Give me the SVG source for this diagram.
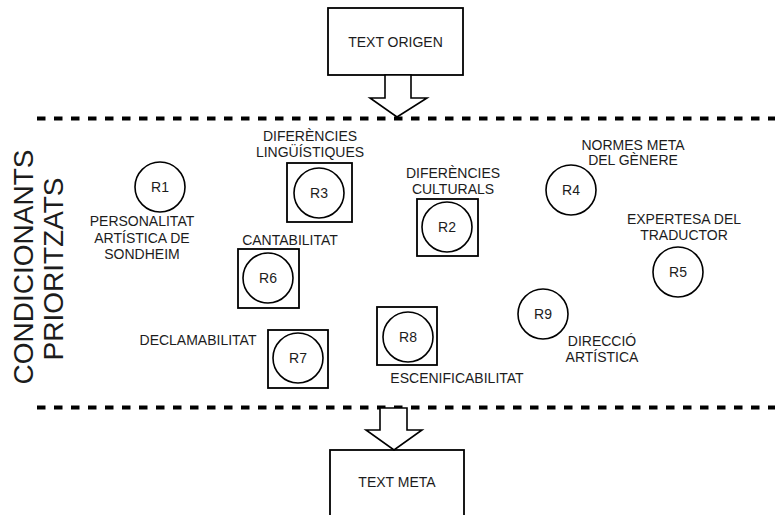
<svg xmlns="http://www.w3.org/2000/svg" width="775" height="515" viewBox="0 0 775 515">
  <style>
    text { font-family: "Liberation Sans", Arial, sans-serif; font-size: 14px; fill: #1c1c1c; text-anchor: middle; }
    .big { font-size: 28px; }
    .box { fill: #fff; stroke: #000; stroke-width: 1.8; }
    .ring { fill: #fff; stroke: #000; stroke-width: 1.6; }
    .frame { fill: none; stroke: #000; stroke-width: 1.8; }
    .dash { stroke: #000; stroke-width: 4; stroke-dasharray: 8.5 8.5; fill: none; }
    .arrow { fill: #fff; stroke: #000; stroke-width: 1.6; stroke-linejoin: miter; }
  </style>

  <!-- band boundaries -->
  <g id="band">
    <line class="dash" x1="37" y1="118.5" x2="775" y2="118.5"/>
    <line class="dash" x1="37" y1="407.5" x2="775" y2="407.5"/>
  </g>

  <!-- side heading -->
  <g id="heading">
    <text class="big" transform="translate(33,267) rotate(-90)">CONDICIONANTS</text>
    <text class="big" transform="translate(63,269) rotate(-90)">PRIORITZATS</text>
  </g>

  <!-- source and target texts -->
  <g id="origen">
    <rect class="box" x="328" y="8" width="135" height="67"/>
    <text x="395.5" y="47">TEXT ORIGEN</text>
  </g>
  <g id="meta">
    <rect class="box" x="330" y="450" width="134" height="80"/>
    <text x="397" y="487">TEXT META</text>
  </g>

  <!-- flow arrows -->
  <g id="connectors">
    <polygon class="arrow" points="385,75 411,75 411,98 427,98 397,117 370,98 385,98"/>
    <polygon class="arrow" points="380,408 407,408 407,430 422,430 394,450 366,430 380,430"/>
  </g>

  <!-- conditioning factors -->
  <g id="r1">
    <circle class="ring" cx="160" cy="187" r="25"/>
    <text x="160" y="192">R1</text>
    <text x="142" y="226">PERSONALITAT</text>
    <text x="142" y="243">ARTÍSTICA DE</text>
    <text x="142" y="259">SONDHEIM</text>
  </g>
  <g id="r3">
    <rect class="frame" x="287" y="163" width="65" height="59"/>
    <circle class="ring" cx="319" cy="193" r="25"/>
    <text x="319" y="198">R3</text>
    <text x="310" y="141">DIFERÈNCIES</text>
    <text x="310" y="157">LINGÜÍSTIQUES</text>
  </g>
  <g id="r2">
    <rect class="frame" x="417" y="199" width="61" height="57"/>
    <circle class="ring" cx="447" cy="227" r="25"/>
    <text x="447" y="232">R2</text>
    <text x="453" y="178">DIFERÈNCIES</text>
    <text x="453" y="194">CULTURALS</text>
  </g>
  <g id="r4">
    <circle class="ring" cx="571" cy="190" r="25"/>
    <text x="571" y="195">R4</text>
    <text x="633" y="150">NORMES META</text>
    <text x="633" y="165">DEL GÈNERE</text>
  </g>
  <g id="r5">
    <circle class="ring" cx="678" cy="272" r="25"/>
    <text x="678" y="277">R5</text>
    <text x="684" y="224">EXPERTESA DEL</text>
    <text x="684" y="240">TRADUCTOR</text>
  </g>
  <g id="r6">
    <rect class="frame" x="238" y="249" width="61" height="59"/>
    <circle class="ring" cx="268" cy="278" r="25"/>
    <text x="268" y="283">R6</text>
    <text x="290" y="245">CANTABILITAT</text>
  </g>
  <g id="r7">
    <rect class="frame" x="268" y="330" width="60" height="58"/>
    <circle class="ring" cx="298" cy="358" r="25"/>
    <text x="298" y="363">R7</text>
    <text x="198" y="345">DECLAMABILITAT</text>
  </g>
  <g id="r8">
    <rect class="frame" x="377" y="307" width="60" height="58"/>
    <circle class="ring" cx="408" cy="337" r="25"/>
    <text x="408" y="342">R8</text>
    <text x="457" y="383">ESCENIFICABILITAT</text>
  </g>
  <g id="r9">
    <circle class="ring" cx="543" cy="314" r="25"/>
    <text x="543" y="319">R9</text>
    <text x="602" y="346">DIRECCIÓ</text>
    <text x="602" y="362">ARTÍSTICA</text>
  </g>
</svg>
